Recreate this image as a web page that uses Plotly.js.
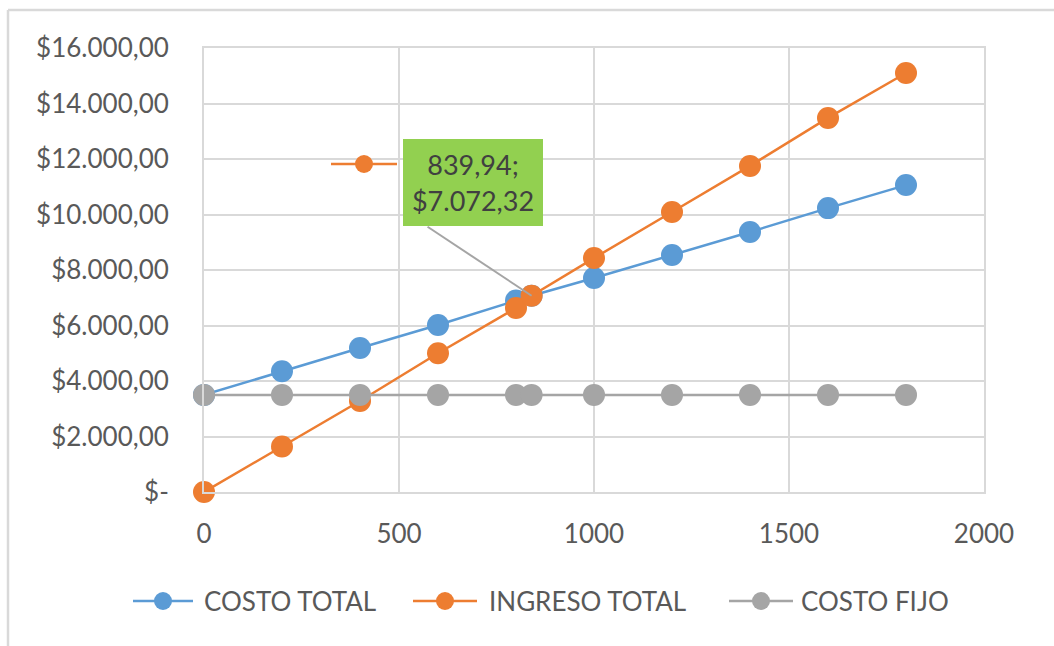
<!DOCTYPE html>
<html>
<head>
<meta charset="utf-8">
<script src="https://cdn.plot.ly/plotly-3.0.1.min.js"></script>
<style>
html,body{margin:0;padding:0;background:#fff;}
#chart{width:1054px;height:646px;}
</style>
</head>
<body>
<div id="chart"></div>
<script>
// Units (x) shared by all series
const unidades = [0, 200, 400, 600, 800, 839.94, 1000, 1200, 1400, 1600, 1800];
const costoTotal = [3500, 4350, 5190, 6020, 6900, 7072.32, 7710, 8540, 9370, 10230, 11060];
const ingresoTotal = [0, 1640, 3280, 5000, 6630, 7072.32, 8430, 10090, 11750, 13480, 15100];
const costoFijo = [3500, 3500, 3500, 3500, 3500, 3500, 3500, 3500, 3500, 3500, 3500];
const seriesNames = ["COSTO TOTAL", "INGRESO TOTAL", "COSTO FIJO"];
const yTickVals = [0, 2000, 4000, 6000, 8000, 10000, 12000, 14000, 16000];
const yTickText = ["$-", "$2.000,00", "$4.000,00", "$6.000,00", "$8.000,00", "$10.000,00", "$12.000,00", "$14.000,00", "$16.000,00"];
const xTickVals = [0, 500, 1000, 1500, 2000];
const puntoEquilibrio = {x: 839.94, y: 7072.32, label: "839,94;<br>$7.072,32"};

const FONT = "Lato, 'Open Sans', sans-serif";
const colors = ["#5b9bd5", "#ed7d31", "#a5a5a5"];
const ys = [costoTotal, ingresoTotal, costoFijo];

// plot-area geometry in pixels (for paper-coordinate helpers)
const M = {l: 204, r: 70, t: 48, b: 154};
const W = 1054, H = 646;
const PW = W - M.l - M.r, PH = H - M.t - M.b;
const px = v => (v - M.l) / PW;
const py = v => (H - M.b - v) / PH;

const traces = ys.map((y, i) => ({
  type: "scatter",
  mode: "lines+markers",
  x: unidades,
  y: y,
  name: seriesNames[i],
  showlegend: false,
  line: {color: colors[i], width: 2.5},
  marker: {color: colors[i], size: 22, line: {width: 0}},
  cliponaxis: false,
  hoverinfo: "x+y+name"
}));

const grid = "#d9d9d9";
const shapes = [
  // outer chart frame (top and left edges)
  {type: "line", xref: "paper", yref: "paper", x0: px(8), x1: px(1060), y0: py(10), y1: py(10), line: {color: grid, width: 2.5}},
  {type: "line", xref: "paper", yref: "paper", x0: px(8), x1: px(8), y0: py(10), y1: py(650), line: {color: grid, width: 2.5}},
  // leader line from label to break-even point
  {type: "line", xref: "x", yref: "y", xsizemode: "pixel", ysizemode: "pixel",
   xanchor: puntoEquilibrio.x, yanchor: puntoEquilibrio.y,
   x0: -104, x1: 0, y0: 69, y1: 0, line: {color: "#a5a5a5", width: 2}},
  // legend key inside data label
  {type: "line", xref: "paper", yref: "paper", x0: px(331), x1: px(397), y0: py(164), y1: py(164), line: {color: "#ed7d31", width: 2.5}},
  {type: "circle", xref: "paper", yref: "paper", x0: px(355), x1: px(373), y0: py(155), y1: py(173), fillcolor: "#ed7d31", line: {width: 0}}
];

// custom legend (keys + labels)
const legendY = 601;
const legendKeys = [[133, 193, 205], [413, 477, 490], [729, 793, 802]];
const annotations = [{
  xref: "paper", yref: "paper",
  x: px(473), y: py(182.5), xanchor: "center", yanchor: "middle",
  text: puntoEquilibrio.label,
  showarrow: false,
  bgcolor: "#92d050",
  width: 140, height: 87,
  borderpad: 0, borderwidth: 0,
  font: {family: FONT, size: 27, color: "#404040"}
}];
legendKeys.forEach((k, i) => {
  const c = (k[0] + k[1]) / 2;
  shapes.push({type: "line", xref: "paper", yref: "paper", x0: px(k[0]), x1: px(k[1]), y0: py(legendY), y1: py(legendY), line: {color: colors[i], width: 2.5}});
  shapes.push({type: "circle", xref: "paper", yref: "paper", x0: px(c - 9), x1: px(c + 9), y0: py(legendY - 9), y1: py(legendY + 9), fillcolor: colors[i], line: {width: 0}});
  annotations.push({
    xref: "paper", yref: "paper", x: px(k[2] - 3), y: py(legendY), xanchor: "left", yanchor: "middle",
    text: seriesNames[i], showarrow: false,
    font: {family: FONT, size: 26, color: "#595959"}
  });
});

const layout = {
  width: W, height: H,
  margin: M,
  paper_bgcolor: "#ffffff",
  plot_bgcolor: "#ffffff",
  showlegend: false,
  font: {family: FONT, color: "#595959", size: 26},
  xaxis: {
    range: [0, 2000],
    tickvals: xTickVals,
    ticktext: xTickVals.map(String),
    showgrid: true, gridcolor: grid, gridwidth: 2,
    zeroline: false,
    showline: true, linecolor: grid, linewidth: 2, mirror: true,
    ticks: "",
    ticklabelstandoff: 18,
    tickfont: {family: FONT, size: 26, color: "#595959"}
  },
  yaxis: {
    range: [0, 16000],
    tickvals: yTickVals,
    ticktext: yTickText,
    showgrid: true, gridcolor: grid, gridwidth: 2,
    zeroline: false,
    showline: true, linecolor: grid, linewidth: 2, mirror: true,
    ticks: "",
    ticklabelstandoff: 28,
    tickfont: {family: FONT, size: 26, color: "#595959"}
  },
  annotations: annotations,
  shapes: shapes
};

Plotly.newPlot("chart", traces, layout, {displayModeBar: false, responsive: false});
</script>
</body>
</html>
